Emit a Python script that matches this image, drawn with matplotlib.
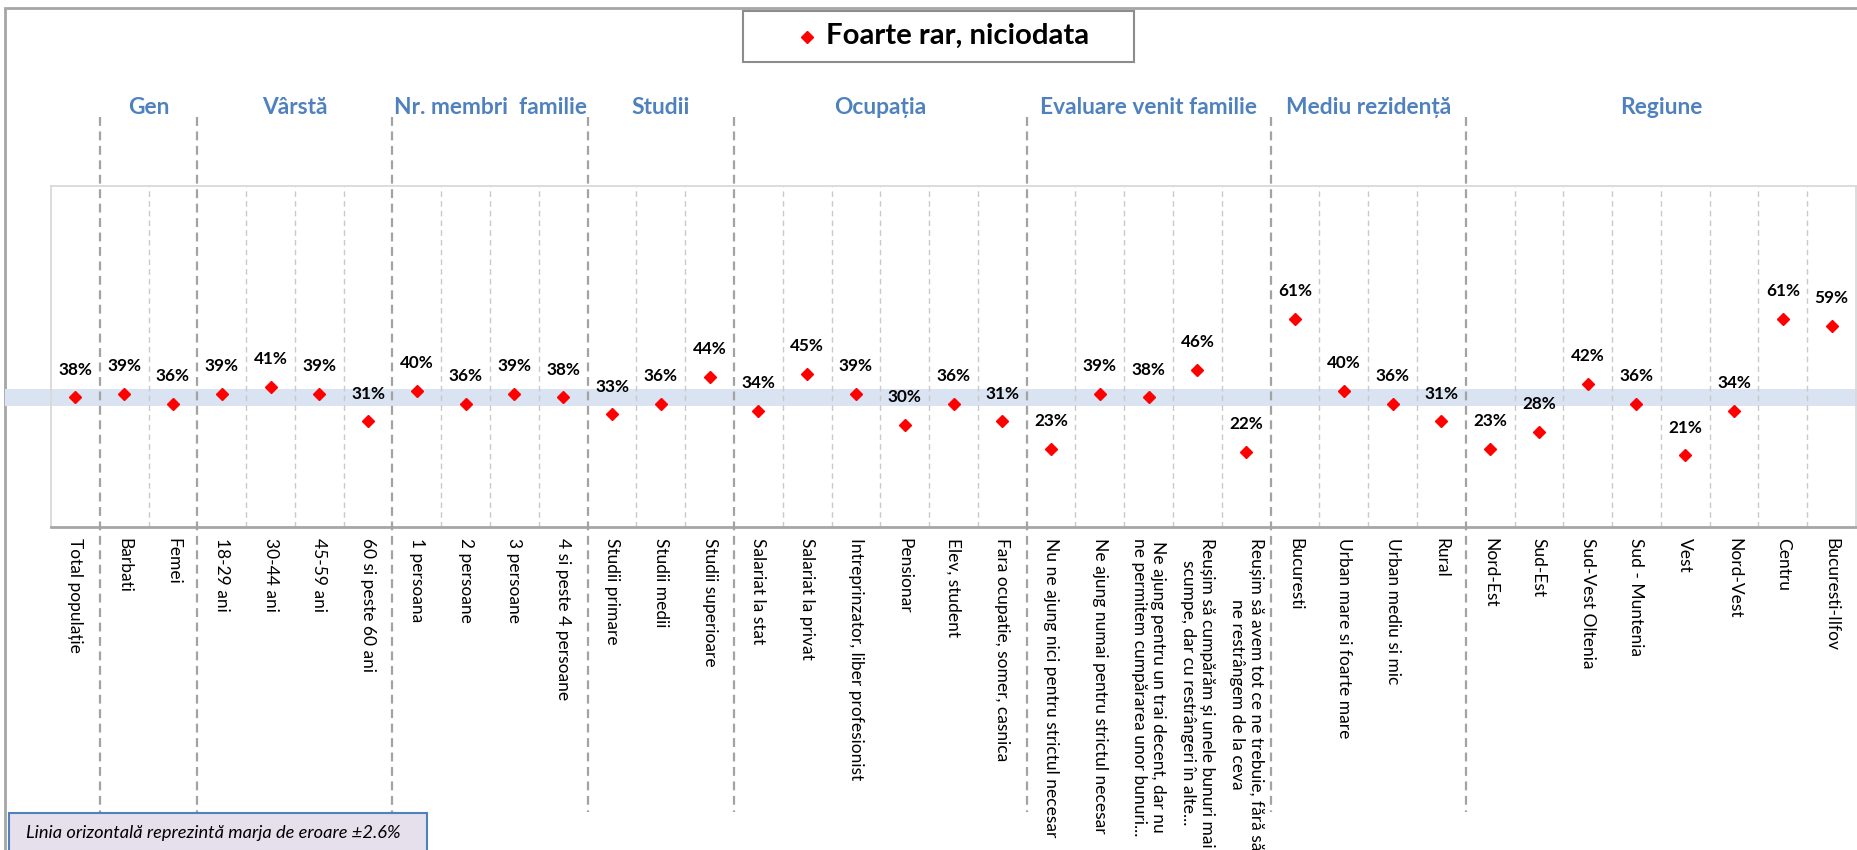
import matplotlib
matplotlib.use('Agg')
import matplotlib.pyplot as plt
import matplotlib.transforms as mtrans
from matplotlib.patches import Rectangle
from matplotlib.lines import Line2D
import numpy as np

# ---------------- data ----------------
categories = [
    "Total populație",
    "Barbati", "Femei",
    "18-29 ani", "30-44 ani", "45-59 ani", "60 si peste 60 ani",
    "1 persoana", "2 persoane", "3 persoane", "4 si peste 4 persoane",
    "Studii primare", "Studii medii", "Studii superioare",
    "Salariat la stat", "Salariat la privat", "Intreprinzator, liber profesionist",
    "Pensionar", "Elev, student", "Fara ocupatie, somer, casnica",
    "Nu ne ajung nici pentru strictul necesar",
    "Ne ajung numai pentru strictul necesar",
    "Ne ajung pentru un trai decent, dar nu\nne permitem cumpărarea unor bunuri...",
    "Reușim să cumpărăm și unele bunuri mai\nscumpe, dar cu restrângeri în alte...",
    "Reușim să avem tot ce ne trebuie, fără să\nne restrângem de la ceva",
    "Bucuresti", "Urban mare si foarte mare", "Urban mediu si mic", "Rural",
    "Nord-Est", "Sud-Est", "Sud-Vest Oltenia", "Sud - Muntenia", "Vest",
    "Nord-Vest", "Centru", "Bucuresti-Ilfov",
]
values = [38,
          39, 36,
          39, 41, 39, 31,
          40, 36, 39, 38,
          33, 36, 44,
          34, 45, 39, 30, 36, 31,
          23, 39, 38, 46, 22,
          61, 40, 36, 31,
          23, 28, 42, 36, 21, 34, 61, 59]
groups = ["Gen", "Vârstă", "Nr. membri  familie", "Studii", "Ocupația",
          "Evaluare venit familie", "Mediu rezidență", "Regiune"]
group_sizes = [2, 4, 4, 3, 6, 5, 4, 8]
series_name = "Foarte rar, niciodata"
margin_of_error = 2.6
note_text = "Linia orizontală reprezintă marja de eroare ±2.6%"

# ---------------- style ----------------
FONT = ['Lato', 'DejaVu Sans']
RED = '#FF0000'
BLUE = '#4F81BD'
W, H = 1858, 850

fig = plt.figure(figsize=(W / 100, H / 100), dpi=100)
renderer = fig.canvas.get_renderer()


def fy(y):
    return 1 - y / H


def fit_size(text, target_px, **kw):
    t = fig.text(0, 0, text, fontsize=10, family=FONT, **kw)
    w = t.get_window_extent(renderer=renderer).width
    t.remove()
    return 10 * target_px / w


tick_fs = fit_size("Urban mare si foarte mare", 200)
pct_fs = fit_size("42%", 34, fontweight='bold')
grp_fs = fit_size("Nr. membri  familie", 194, fontweight='bold')
leg_fs = fit_size(series_name, 265, fontweight='bold')
note_fs = fit_size(note_text, 374, style='italic')

# outer frame
fig.add_artist(Rectangle((5 / W, -0.2), 1.2, fy(8) + 0.2, fill=False,
                         edgecolor='#A6A6A6', lw=2, transform=fig.transFigure,
                         zorder=-5))

ax = fig.add_axes([51 / W, fy(527), (1856 - 51) / W, (527 - 186) / H])
n = len(categories)
xs = np.arange(n) + 0.5
ax.set_xlim(0, n)
ax.set_ylim(0, 100)
ax.set_yticks([])

# error band around total
ref = values[0]
band_tr = mtrans.blended_transform_factory(fig.transFigure, ax.transData)
ax.add_patch(Rectangle((5 / W, ref - margin_of_error), 1.0, 2 * margin_of_error,
                       transform=band_tr, facecolor='#DAE3F1', edgecolor='none',
                       zorder=0.5, clip_on=False))

# group boundaries
bounds = list(np.cumsum([1] + group_sizes)[:-1])
starts = bounds
ends = list(np.cumsum([1] + group_sizes)[1:])

for b in range(1, n):
    if b not in bounds:
        ax.axvline(b, color='#C9C9C9', lw=1.0, ls=(0, (4, 3)), zorder=1)

sep_tr = mtrans.blended_transform_factory(ax.transData, fig.transFigure)
for b in bounds:
    fig.add_artist(Line2D([b, b], [fy(117), fy(812)], transform=sep_tr,
                          color='#A3A3A3', lw=1.6, ls=(0, (4, 2.5)), zorder=2))

# group labels
for g, s, e in zip(groups, starts, ends):
    fig.text((s + e) / 2, fy(108), g, transform=sep_tr, ha='center', va='center',
             fontsize=grp_fs, fontweight='bold', color=BLUE, family=FONT)

# markers and labels
ax.plot(xs, values, ls='none', marker='D', ms=6.6, color=RED, zorder=4,
        clip_on=False)
for xv, v in zip(xs, values):
    ax.annotate(f"{v}%", (xv, v), xytext=(0, 20), textcoords='offset points',
                ha='center', va='center', fontsize=pct_fs, fontweight='bold',
                color='black', family=FONT, zorder=5)

# spines
for side in ['top', 'left', 'right']:
    ax.spines[side].set_color('#D9D9D9')
    ax.spines[side].set_linewidth(1.3)
ax.spines['bottom'].set_color('#A6A6A6')
ax.spines['bottom'].set_linewidth(2)

ax.set_xticks(xs)
ax.set_xticklabels(categories, rotation=-90, fontsize=tick_fs, family=FONT,
                   multialignment='center')
ax.tick_params(axis='x', length=0, pad=8)

# legend box
fig.add_artist(Rectangle((743 / W, fy(62)), (1134 - 743) / W, (62 - 11) / H,
                         facecolor='white', edgecolor='#8C8C8C', lw=1.5,
                         transform=fig.transFigure, zorder=3))
fig.add_artist(Line2D([807 / W], [fy(37)], marker='D', ms=6, color=RED,
                      ls='none', transform=fig.transFigure, zorder=4))
fig.text(826 / W, fy(36), series_name, ha='left', va='center', fontsize=leg_fs,
         fontweight='bold', color='black', family=FONT, zorder=4)

# note box
fig.add_artist(Rectangle((9 / W, -0.05), (427 - 9) / W, fy(813) + 0.05,
                         facecolor='#E6E0EC', edgecolor=BLUE, lw=1.5,
                         transform=fig.transFigure, zorder=6))
fig.text(26 / W, fy(833), note_text, ha='left', va='center', fontsize=note_fs,
         style='italic', color='black', family=FONT, zorder=7)

fig.savefig('out.png', dpi=100)
